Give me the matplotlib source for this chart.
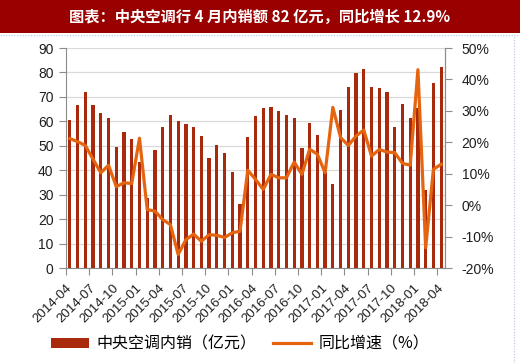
import matplotlib
matplotlib.use("Agg")
import matplotlib.pyplot as plt
from matplotlib.patches import Rectangle, Patch
from matplotlib.lines import Line2D
import numpy as np

months = [f"{y}-{m:02d}" for y in range(2014, 2019) for m in range(1, 13)]
months = months[months.index("2014-04"):months.index("2018-04") + 1]

sales = [60.6, 66.6, 71.8, 66.6, 63.5, 61.4, 49.5, 55.8, 52.7, 43.4,
         28.5, 48.2, 57.5, 62.4, 60.3, 59.1, 57.5, 54.0, 45.0, 50.3,
         47.1, 39.4, 26.1, 53.4, 62.0, 65.3, 65.8, 64.2, 62.4, 61.4,
         49.2, 59.2, 54.6, 39.4, 34.2, 64.7, 73.9, 79.9, 81.5, 74.1,
         73.5, 71.8, 57.5, 67.2, 61.4, 65.4, 32.0, 75.5, 82.1]

yoy = [21.2, 20.2, 19.0, 14.6, 10.3, 12.7, 5.9, 7.1, 6.9, 21.3,
       -1.4, -1.9, -4.6, -6.2, -15.7, -11.0, -9.2, -11.5, -9.4, -9.6,
       -10.3, -8.8, -8.3, 11.1, 8.2, 5.0, 9.8, 8.7, 8.7, 13.7,
       9.8, 17.8, 16.2, 10.3, 31.1, 21.5, 19.0, 22.0, 23.9, 15.6,
       17.7, 16.9, 16.7, 13.3, 12.7, 43.1, -13.6, 11.4, 13.0]

title = "图表：中央空调行 4 月内销额 82 亿元，同比增长 12.9%"
bar_label = "中央空调内销（亿元）"
line_label = "同比增速（%）"

W, H = 520, 363
fig = plt.figure(figsize=(W / 100, H / 100), dpi=100)
fig.patch.set_facecolor("white")

# title band
fig.add_artist(Rectangle((0, 1 - 33 / H), 1, 33 / H, transform=fig.transFigure,
                         facecolor="#990000", edgecolor="none", zorder=0))
fig.text(260 / W, 1 - 16.5 / H, title, color="white", fontsize=11,
         ha="center", va="center", family=["Noto Sans CJK SC", "DejaVu Sans"],
         fontweight="bold")
fig.add_artist(Line2D([0, 1], [1 - 35 / H, 1 - 35 / H], transform=fig.transFigure,
                      color="#b8c4dc", lw=0.8, ls=(0, (1, 1.5))))
fig.add_artist(Line2D([514 / W, 514 / W], [0, 1 - 35 / H], transform=fig.transFigure,
                      color="#b8c4dc", lw=0.8, ls=(0, (1, 1.5))))

left, right, top, bottom = 66, 445, 48, 268
ax = fig.add_axes([left / W, 1 - bottom / H, (right - left) / W, (bottom - top) / H])
x = np.arange(len(months))
ax.bar(x, sales, width=0.42, color="#A8290C", zorder=2)
ax.set_xlim(-0.5, len(months) - 0.5)
ax.set_ylim(0, 90)
ax.set_yticks(range(0, 91, 10))
ax.grid(axis="y", color="#d9d9d9", lw=0.9, zorder=0)
ax.set_axisbelow(True)

tick_idx = list(range(0, len(months), 3))
ax.set_xticks([i - 0.5 for i in tick_idx])
ax.set_xticklabels([months[i] for i in tick_idx], rotation=45, ha="right",
                   rotation_mode="anchor", fontsize=9.5, family="Liberation Sans",
                   color="#1f1f1f")
for lab in ax.get_yticklabels():
    lab.set_family("Liberation Sans")
ax.tick_params(axis="y", labelsize=10, colors="#1f1f1f", length=5, width=0.8,
               color="#8c8c8c", pad=4)
ax.tick_params(axis="x", length=5, width=0.8, color="#8c8c8c", pad=5)
for s in ["top"]:
    ax.spines[s].set_visible(False)
for s in ["left", "bottom", "right"]:
    ax.spines[s].set_color("#8c8c8c")
    ax.spines[s].set_linewidth(0.8)

ax2 = ax.twinx()
ax2.plot(x, yoy, color="#E4640F", lw=2.3, zorder=3, solid_joinstyle="round")
ax2.set_ylim(-20, 50)
ax2.set_yticks(range(-20, 51, 10))
ax2.set_yticklabels([f"{v}%" for v in range(-20, 51, 10)], family="Liberation Sans")
ax2.tick_params(axis="y", labelsize=10, colors="#1f1f1f", length=5, width=0.8,
                color="#8c8c8c", pad=7)
ax2.spines["top"].set_visible(False)
ax2.spines["right"].set_color("#8c8c8c")
ax2.spines["right"].set_linewidth(0.8)
ax2.spines["left"].set_visible(False)
ax2.spines["bottom"].set_visible(False)

handles = [Patch(facecolor="#A8290C", edgecolor="none", label=bar_label),
           Line2D([], [], color="#E4640F", lw=2.3, label=line_label)]
fig.legend(handles=handles, loc="center", bbox_to_anchor=(240 / W, 1 - 344 / H),
           ncol=2, frameon=False, handlelength=2.4, handleheight=0.55,
           handletextpad=0.45, columnspacing=1.0,
           prop={"family": ["Noto Sans CJK SC", "DejaVu Sans"], "size": 11.5})

fig.savefig("out.png", dpi=100, facecolor="white")
